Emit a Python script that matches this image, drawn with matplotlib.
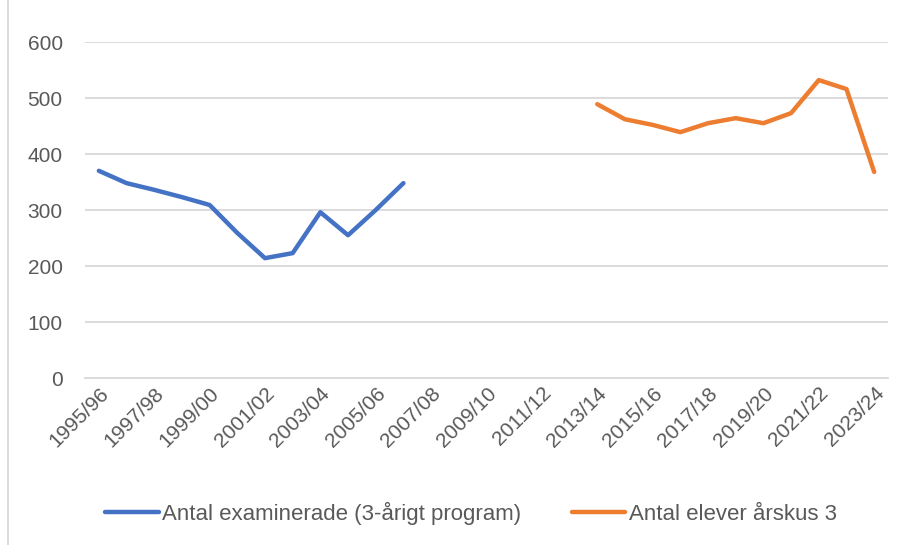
import matplotlib
matplotlib.use('Agg')
import matplotlib.pyplot as plt
import numpy as np

# School years 1995/96 .. 2023/24
years = [f"{y}/{str(y + 1)[-2:]}" for y in range(1995, 2024)]

examined_label = 'Antal examinerade (3-årigt program)'
examined = [370, 348, 336, 323, 309, 259, 214, 223, 296, 255, 300, 348]

students_label = 'Antal elever årskus 3'
students_start = 2013
students = [489, 462, 452, 439, 455, 464, 455, 473, 532, 516, 368]

x = np.arange(len(years))
blue_vals = np.full(len(years), np.nan)
blue_vals[:len(examined)] = examined
orange_vals = np.full(len(years), np.nan)
i0 = students_start - 1995
orange_vals[i0:i0 + len(students)] = students

plt.rcParams['font.family'] = 'Liberation Sans'

fig = plt.figure(figsize=(9.12, 5.45), dpi=100)
ax = fig.add_axes([85 / 912, 1 - 378 / 545, (888 - 85) / 912, (378 - 42) / 545])

ax.plot(x, blue_vals, color='#4472C4', lw=3.2, solid_capstyle='round',
        solid_joinstyle='round', label=examined_label)
ax.plot(x, orange_vals, color='#ED7D31', lw=3.2, solid_capstyle='round',
        solid_joinstyle='round', label=students_label)

ax.set_xlim(-0.5, len(years) - 0.5)
ax.set_ylim(0, 600)
ax.set_yticks(range(0, 601, 100))
ax.yaxis.grid(True, color='#D9D9D9', lw=1.3)
ax.set_axisbelow(True)
for s in ['top', 'right', 'left']:
    ax.spines[s].set_visible(False)
ax.spines['bottom'].set_color('#D9D9D9')
ax.spines['bottom'].set_linewidth(1.3)
ax.tick_params(axis='y', length=0, pad=16, labelsize=15, labelcolor='#595959')
ax.tick_params(axis='x', length=0, pad=4, labelsize=15, labelcolor='#595959')

ax.set_xticks(x[::2])
ax.set_xticklabels(years[::2], rotation=45, ha='right', rotation_mode='anchor')

leg = fig.legend(loc='center', bbox_to_anchor=(471 / 912, 1 - 513 / 545), ncol=2,
                 frameon=False, handlelength=2.4, columnspacing=2.3,
                 handletextpad=0.15, prop={'size': 16})
for t in leg.get_texts():
    t.set_color('#595959')

# left border of the chart frame
fig.add_artist(plt.Line2D([8 / 912, 8 / 912], [0, 1], transform=fig.transFigure,
                          color='#D9D9D9', lw=1.3))

plt.savefig('out.png', dpi=100, facecolor='white')
